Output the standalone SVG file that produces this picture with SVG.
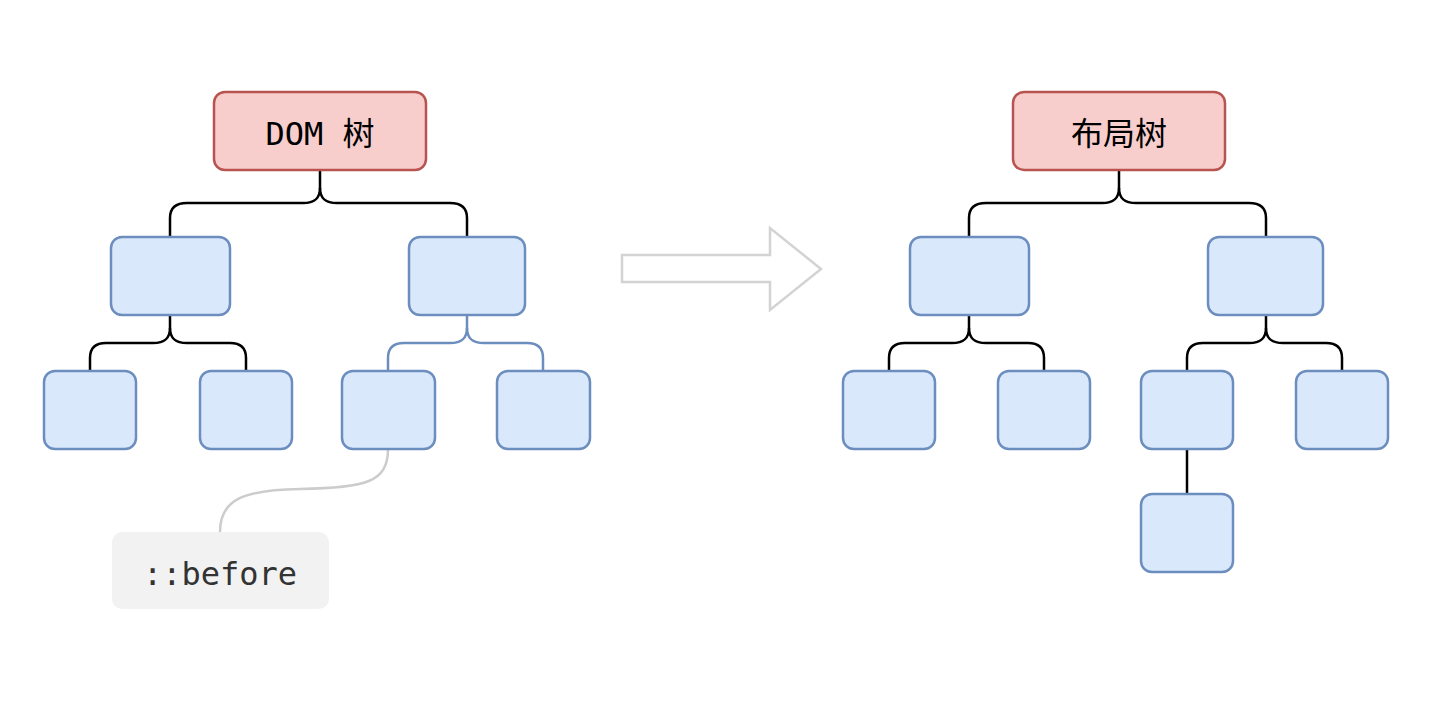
<svg xmlns="http://www.w3.org/2000/svg" width="1446" height="722" viewBox="0 0 1446 722">
<style>
.root{fill:#f8cecc;stroke:#b85450;stroke-width:2.5}
.node{fill:#dae8fc;stroke:#6c8ebf;stroke-width:2.5}
.edge{fill:none;stroke:#000;stroke-width:2.5}
.bedge{fill:none;stroke:#6c8ebf;stroke-width:2.5}
.gedge{fill:none;stroke:#cccccc;stroke-width:2.5}
.lbl{font-family:"DejaVu Sans Mono","Liberation Mono","Noto Sans CJK SC",monospace;font-size:32px;fill:#000;text-anchor:middle}
</style>
<rect width="1446" height="722" fill="#ffffff"/>
<g id="connectors">
  <path class="edge" d="M320,170 V188 C320,199 314,203 303,203 H187 C176,203 170,208 170,218 V237"/>
  <path class="edge" d="M320,188 C320,199 326,203 337,203 H450 C461,203 467,208 467,218 V237"/>
  <path class="edge" d="M170,315 V328 C170,339 164,343 153,343 H106 C96,343 90,348 90,358 V371"/>
  <path class="edge" d="M170,328 C170,339 176,343 187,343 H230 C240,343 246,348 246,358 V371"/>
  <path class="bedge" d="M467,315 V328 C467,339 461,343 450,343 H404 C394,343 388,348 388,358 V371"/>
  <path class="bedge" d="M467,328 C467,339 473,343 484,343 H527 C537,343 543,348 543,358 V371"/>
  <path class="gedge" d="M388,449 C388,482 366,488 300,489 C242,490 220,500 220,532"/>
  <path class="edge" d="M1119,170 V188 C1119,199 1113,203 1102,203 H986 C975,203 969,208 969,218 V237"/>
  <path class="edge" d="M1119,188 C1119,199 1125,203 1136,203 H1249 C1260,203 1266,208 1266,218 V237"/>
  <path class="edge" d="M969,315 V328 C969,339 963,343 952,343 H905 C895,343 889,348 889,358 V371"/>
  <path class="edge" d="M969,328 C969,339 975,343 986,343 H1028 C1038,343 1044,348 1044,358 V371"/>
  <path class="edge" d="M1266,315 V328 C1266,339 1260,343 1249,343 H1203 C1193,343 1187,348 1187,358 V371"/>
  <path class="edge" d="M1266,328 C1266,339 1272,343 1283,343 H1326 C1336,343 1342,348 1342,358 V371"/>
  <path class="edge" d="M1187,449 V494"/>
</g>
<g id="arrow">
  <polygon points="622,255 770,255 770,228 821,269 770,310 770,282 622,282" fill="#ffffff" stroke="#d3d3d3" stroke-width="2.5"/>
</g>
<g id="dom-root"><rect class="root" x="214" y="92" width="212" height="78" rx="11"/><text class="lbl" x="320" y="145">DOM 树</text></g>
<g id="dom-l1a"><rect class="node" x="111" y="237" width="119" height="78" rx="11"/></g>
<g id="dom-l1b"><rect class="node" x="409" y="237" width="116" height="78" rx="11"/></g>
<g id="dom-l2a"><rect class="node" x="44" y="371" width="92" height="78" rx="11"/></g>
<g id="dom-l2b"><rect class="node" x="200" y="371" width="92" height="78" rx="11"/></g>
<g id="dom-l2c"><rect class="node" x="342" y="371" width="93" height="78" rx="11"/></g>
<g id="dom-l2d"><rect class="node" x="497" y="371" width="93" height="78" rx="11"/></g>
<g id="before"><rect x="112" y="532" width="217" height="77" rx="10" fill="#f2f2f2"/><text class="lbl" x="220" y="585" style="fill:#333333">::before</text></g>
<g id="layout-root"><rect class="root" x="1013" y="92" width="212" height="78" rx="11"/><text class="lbl" x="1119" y="145">布局树</text></g>
<g id="lay-l1a"><rect class="node" x="910" y="237" width="119" height="78" rx="11"/></g>
<g id="lay-l1b"><rect class="node" x="1208" y="237" width="115" height="78" rx="11"/></g>
<g id="lay-l2a"><rect class="node" x="843" y="371" width="92" height="78" rx="11"/></g>
<g id="lay-l2b"><rect class="node" x="998" y="371" width="92" height="78" rx="11"/></g>
<g id="lay-l2c"><rect class="node" x="1141" y="371" width="92" height="78" rx="11"/></g>
<g id="lay-l2d"><rect class="node" x="1296" y="371" width="92" height="78" rx="11"/></g>
<g id="lay-l3"><rect class="node" x="1141" y="494" width="92" height="78" rx="11"/></g>
</svg>
